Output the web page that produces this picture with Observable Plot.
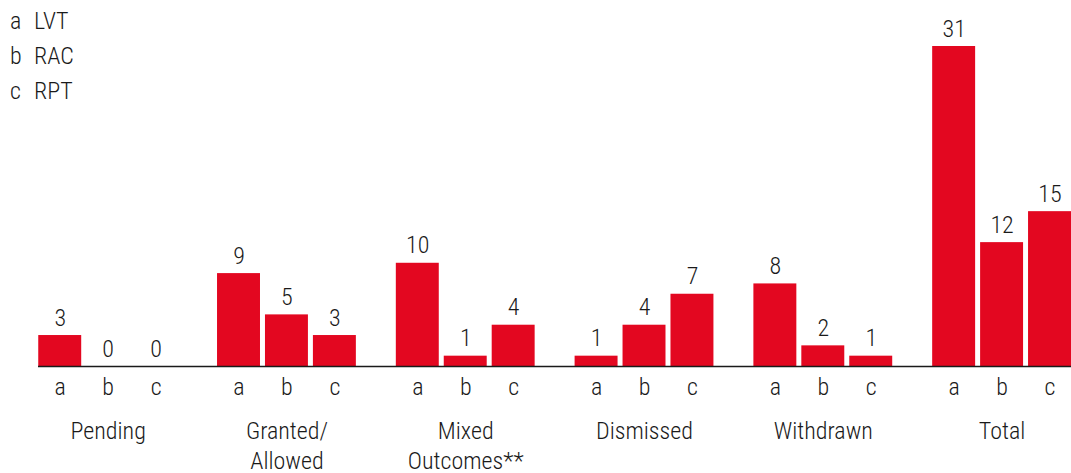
<!DOCTYPE html>
<html>
<head>
<meta charset="utf-8">
<script src="https://cdn.jsdelivr.net/npm/d3@7"></script>
<script src="https://cdn.jsdelivr.net/npm/@observablehq/plot@0.6"></script>
<style>
  body { margin: 0; background: #fff; }
  #chart {
    position: relative; width: 1071px; height: 473px;
    font-family: "Liberation Sans Narrow", "Roboto Condensed", "DejaVu Sans Condensed", sans-serif;
    font-stretch: condensed; font-weight: 300;
  }
  #chart svg text { font-weight: 300; }
  #legend {
    position: absolute; left: 10px; top: 4px;
    font-size: 24px; line-height: 35px; color: #1a1a1a;
  }
  #legend .k { display: inline-block; width: 24px; }
</style>
</head>
<body>
<div id="chart"><div id="legend"></div></div>
<script>
// Outcome groups, series keys and series values
const groups = ["Pending", "Granted/\nAllowed", "Mixed\nOutcomes**", "Dismissed", "Withdrawn", "Total"];
const keys = ["a", "b", "c"];
const seriesNames = ["LVT", "RAC", "RPT"];
const lvt = [3, 9, 10, 1, 8, 31];
const rac = [0, 5, 1, 4, 2, 12];
const rpt = [0, 3, 4, 7, 1, 15];

const series = [lvt, rac, rpt];
const data = groups.flatMap((g, i) =>
  series.map((s, j) => ({group: g, key: keys[j], value: s[i]}))
);

const font = '"Liberation Sans Narrow", "Roboto Condensed", "DejaVu Sans Condensed", sans-serif';

const chart = Plot.plot({
  width: 1071,
  height: 473,
  marginLeft: 10,
  marginRight: 0,
  marginTop: 46,
  marginBottom: 107,
  style: {fontFamily: font, fontSize: "24px", color: "#1a1a1a", background: "#fff"},
  fx: {domain: groups, paddingInner: 0.2235, paddingOuter: 0.079, align: 1, round: false, label: null},
  x: {domain: keys, paddingInner: 0.104, paddingOuter: 0, round: false, label: null},
  y: {domain: [0, 31], axis: null},
  marks: [
    Plot.barY(data, {fx: "group", x: "key", y: "value", fill: "#e30720"}),
    Plot.text(data, {
      fx: "group", x: "key", y: "value",
      text: d => String(d.value),
      lineAnchor: "bottom", dy: -10, fill: "#1a1a1a"
    }),
    // baseline across the whole frame (y = 0 sits on the frame's bottom edge)
    Plot.frame({anchor: "bottom", facet: "super", stroke: "#1a1a1a", strokeWidth: 1.5}),
    Plot.axisX({tickSize: 0, tickPadding: 11, label: null}),
    Plot.axisFx({anchor: "bottom", tickSize: 0, tickPadding: 51, lineHeight: 1.25, label: null})
  ]
});

document.getElementById("chart").appendChild(chart);

// Legend: series key followed by its name
const legend = d3.select("#legend");
keys.forEach((k, i) => {
  const row = legend.append("div");
  row.append("span").attr("class", "k").text(k);
  row.append("span").text(seriesNames[i]);
});
</script>
</body>
</html>
